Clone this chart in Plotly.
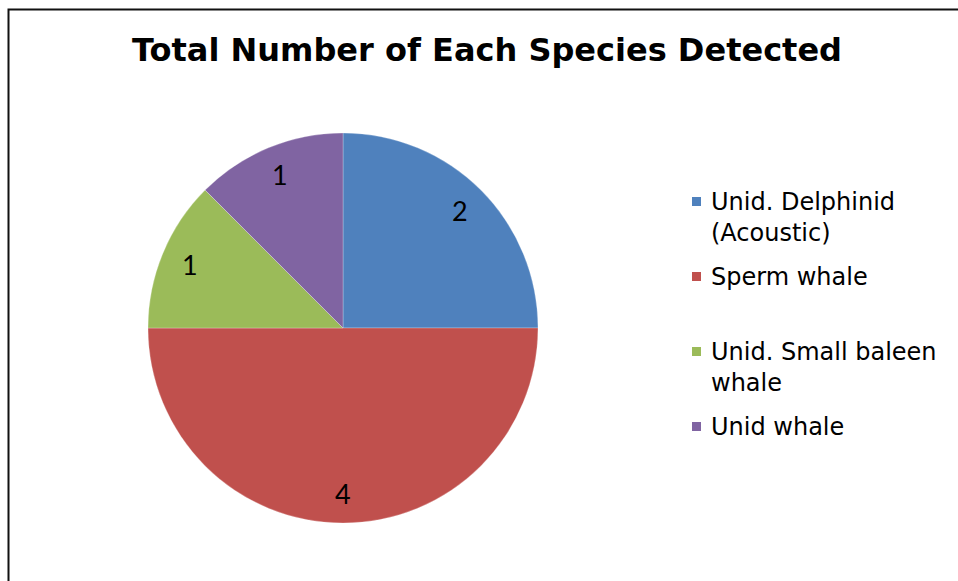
import math
import plotly.graph_objects as go

# Detection counts per species
species = [
    "Unid. Delphinid<br>(Acoustic)",
    "Sperm whale",
    "Unid. Small baleen<br>whale",
    "Unid whale",
]
counts = [2, 4, 1, 1]
colors = ["#4F81BD", "#C0504D", "#9BBB59", "#8064A2"]

W, H = 958, 581

# Pie placement (pixels)
CX, CY, R = 343, 328, 195

fig = go.Figure(
    go.Pie(
        labels=species,
        values=counts,
        sort=False,
        direction="clockwise",
        rotation=0,
        marker=dict(colors=colors, line=dict(color="rgba(255,255,255,0.25)", width=1)),
        textinfo="none",
        domain=dict(x=[(CX - R) / W, (CX + R) / W], y=[(H - CY - R) / H, (H - CY + R) / H]),
        hoverinfo="label+value",
        showlegend=False,
    )
)

annotations = []

# Value labels placed toward the outer part of each slice
total = sum(counts)
start = 0.0
for v in counts:
    mid = (start + v / 2) / total * 2 * math.pi
    start += v
    r = 0.85 * R
    px = CX + r * math.sin(mid)
    py = CY - r * math.cos(mid)
    annotations.append(
        dict(
            x=px / W, y=1 - py / H, xref="paper", yref="paper",
            text=str(v), showarrow=False,
            xanchor="center", yanchor="middle",
            font=dict(family="Lato", size=27, color="#000000"),
        )
    )

# Legend: colour swatch + label, one evenly spaced slot per species
shapes = []
LEG_X, LEG_Y0, LEG_STEP, SW = 692, 203, 75, 9
LEG_FONT = 24
for i, (name, col) in enumerate(zip(species, colors)):
    yc = LEG_Y0 + i * LEG_STEP
    shapes.append(
        dict(
            type="rect", xref="paper", yref="paper",
            x0=LEG_X / W, x1=(LEG_X + SW) / W,
            y0=1 - (yc - 1.5 + SW / 2) / H, y1=1 - (yc - 1.5 - SW / 2) / H,
            fillcolor=col, line=dict(width=0),
        )
    )
    annotations.append(
        dict(
            x=(LEG_X + 18) / W, y=1 - (yc - 16) / H, xref="paper", yref="paper",
            text=name, showarrow=False, align="left",
            xanchor="left", yanchor="top", borderpad=0,
            font=dict(family="DejaVu Sans", size=LEG_FONT, color="#000000"),
        )
    )

# Chart area frame
shapes.append(
    dict(
        type="rect", xref="paper", yref="paper",
        x0=8.5 / W, x1=1.05, y0=-0.05, y1=1 - 9.5 / H,
        line=dict(color="#111111", width=2),
        fillcolor="rgba(0,0,0,0)",
    )
)

fig.update_layout(
    width=W,
    height=H,
    margin=dict(l=0, r=0, t=0, b=0),
    paper_bgcolor="white",
    plot_bgcolor="white",
    title=dict(
        text="<b>Total Number of Each Species Detected</b>",
        font=dict(family="DejaVu Sans", size=32, color="#000000"),
        x=487 / W,
        xanchor="center",
        y=1 - 50 / H,
        yanchor="middle",
    ),
    showlegend=False,
    annotations=annotations,
    shapes=shapes,
)

fig.write_html("out.html")
